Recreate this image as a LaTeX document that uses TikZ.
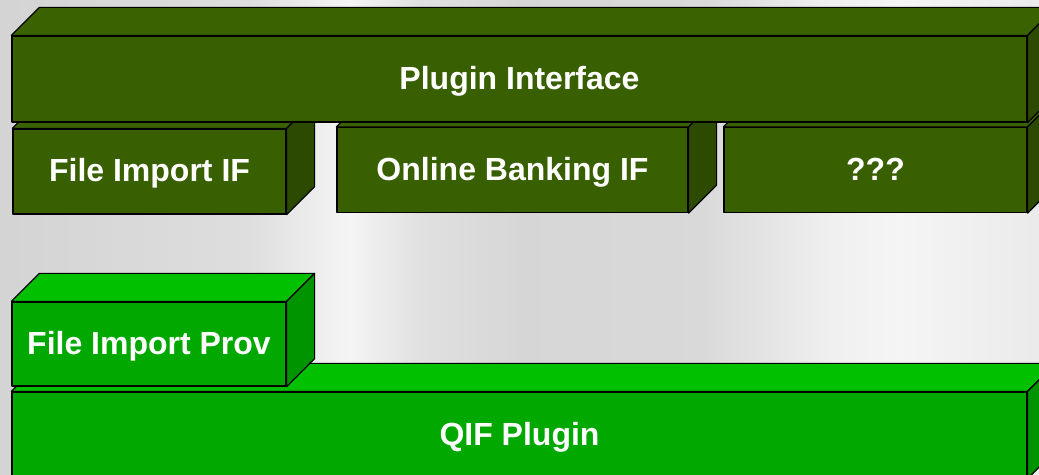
\documentclass[tikz,border=0pt]{standalone}
\usepackage{fontspec}
\setmainfont{Liberation Sans}
\usepackage{xcolor}
\usetikzlibrary{positioning}

\definecolor{ifgreen}{HTML}{385F00}
\definecolor{iftop}{HTML}{3A6300}
\definecolor{ifside}{HTML}{2C4B00}
\definecolor{provgreen}{HTML}{00A800}
\definecolor{provtop}{HTML}{00C000}
\definecolor{provside}{HTML}{009400}

% light grey backdrop with brighter streaks
\pgfdeclarehorizontalshading{streaks}{100bp}{%
  color(0bp)=(black!17); color(25bp)=(black!17); color(37bp)=(black!13);
  color(41.8bp)=(black!4); color(45.2bp)=(black!12); color(50bp)=(black!16);
  color(58.7bp)=(black!15); color(65bp)=(black!6); color(68.3bp)=(black!4);
  color(75bp)=(black!8); color(100bp)=(black!8)}

% top and right faces of a block, behind the named front face
\newcommand{\depthfaces}[3]{%
  \draw[faceline, fill=#2] (#1.north west) -- ++(28,-28)
    -- ([shift={(28,-28)}]#1.north east) -- (#1.north east) -- cycle;
  \draw[faceline, fill=#3] (#1.north east) -- ([shift={(28,-28)}]#1.north east)
    -- ([shift={(28,-28)}]#1.south east) -- (#1.south east) -- cycle;
}

\begin{document}
\begin{tikzpicture}[x=0.5pt, y=-0.5pt,
  faceline/.style={draw=black, line width=0.6pt, line join=round},
  block/.style={faceline, inner sep=0pt, text=white, minimum height=43pt,
    text height=11.5pt, text depth=1pt,
    font=\fontsize{16}{19}\selectfont\bfseries},
  ifblock/.style={block, fill=ifgreen},
  provblock/.style={block, fill=provgreen}]
  \useasboundingbox (0,0) rectangle (1039,475);
  \clip (0,0) rectangle (1039,475);
  \shade[shading=streaks] (0,0) rectangle (1039,475);

  % interfaces
  \node[ifblock, minimum width=136.5pt, minimum height=42.5pt] (fileif) at (149.5,171.5) {File Import IF};
  \depthfaces{fileif}{iftop}{ifside}
  \node[ifblock, minimum width=175.5pt, minimum height=42.5pt] (bankif) at (512.5,170) {Online Banking IF};
  \depthfaces{bankif}{iftop}{ifside}
  \node[ifblock, minimum width=151.5pt, minimum height=42.5pt] (otherif) at (875.5,170) {???};
  \depthfaces{otherif}{iftop}{ifside}
  \node[ifblock, minimum width=507.5pt] (plugif) at (519.5,79) {Plugin Interface};
  \depthfaces{plugif}{iftop}{ifside}

  % plugin
  \node[provblock, minimum width=507.5pt] (qif) at (519.5,435) {QIF Plugin};
  \depthfaces{qif}{provtop}{provside}
  \node[provblock, minimum width=137pt, minimum height=42pt] (fileprov) at (149,344) {File Import Prov};
  \depthfaces{fileprov}{provtop}{provside}
\end{tikzpicture}
\end{document}
